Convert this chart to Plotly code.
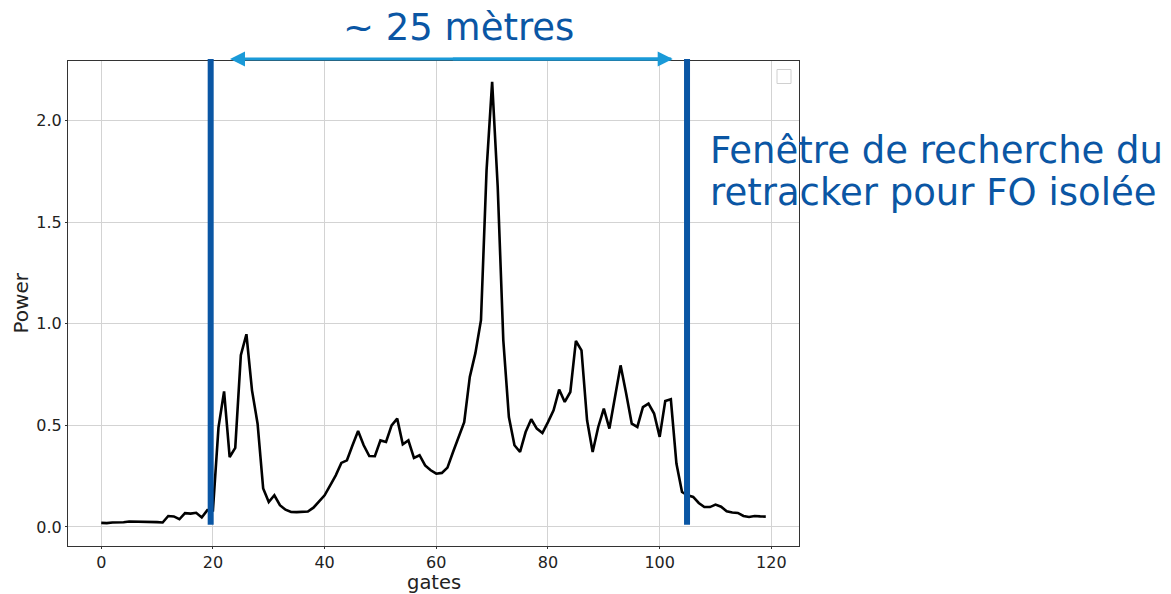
import plotly.graph_objects as go

gates = list(range(120))
power = [
    0.020, 0.019, 0.022, 0.022, 0.023, 0.027, 0.027, 0.025, 0.025, 0.025, 0.024, 0.022,
    0.054, 0.052, 0.038, 0.068, 0.066, 0.070, 0.047, 0.083,
    0.082, 0.490, 0.667, 0.344, 0.389, 0.845, 0.948, 0.672, 0.508, 0.189,
    0.123, 0.156, 0.107, 0.085, 0.074, 0.073, 0.074, 0.076, 0.095, 0.126,
    0.156, 0.205, 0.254, 0.315, 0.328, 0.402, 0.472, 0.402, 0.349, 0.348,
    0.426, 0.418, 0.500, 0.533, 0.407, 0.426, 0.340, 0.353, 0.303, 0.279,
    0.262, 0.266, 0.292, 0.369, 0.443, 0.516, 0.738, 0.855, 1.017, 1.754,
    2.189, 1.672, 0.918, 0.541, 0.402, 0.369, 0.467, 0.530, 0.484, 0.462,
    0.516, 0.574, 0.676, 0.615, 0.664, 0.915, 0.869, 0.525, 0.369, 0.492,
    0.582, 0.484, 0.639, 0.795, 0.656, 0.508, 0.492, 0.590, 0.607, 0.558,
    0.443, 0.620, 0.628, 0.312, 0.172, 0.156, 0.148, 0.118, 0.098, 0.098,
    0.110, 0.100, 0.077, 0.071, 0.069, 0.054, 0.049, 0.054, 0.052, 0.051,
]
window = [19.6, 104.9]
x_ticks = [0, 20, 40, 60, 80, 100, 120]
y_ticks = [0.0, 0.5, 1.0, 1.5, 2.0]
y_tick_text = ["0.0", "0.5", "1.0", "1.5", "2.0"]

W, H = 1171, 594
L, R, T, B = 68, 799, 61, 546
pw, ph = R - L, B - T


def px(xp):
    return (xp - L) / pw


def py(yp):
    return (B - yp) / ph


DARK_BLUE = "#0a56a4"
LIGHT_BLUE = "#1a9ad8"
FONT = "DejaVu Sans"
TXT = "#222222"

fig = go.Figure()
fig.add_trace(go.Scatter(x=gates, y=power, mode="lines",
                         line=dict(color="black", width=2.6), showlegend=False))

shapes = []
for w in window:
    shapes.append(dict(type="line", xref="x", yref="paper", x0=w, x1=w,
                       y0=py(524.7), y1=py(59), line=dict(color=DARK_BLUE, width=6),
                       layer="above"))
# empty legend box
x0, x1, y0, y1 = px(777), px(791), py(83.5), py(69.5)
shapes.append(dict(type="rect", xref="paper", yref="paper", x0=x0, x1=x1, y0=y0, y1=y1,
                   line=dict(color="#d0d0d0", width=1), fillcolor="white", layer="above"))

annotations = []
# double arrow
ay_p = py(59)
left_tip, right_tip = 230, 672.7
annotations.append(dict(xref="paper", yref="paper", x=px(left_tip), y=ay_p, text="",
                        showarrow=True, arrowhead=2, arrowsize=1, arrowwidth=3,
                        arrowcolor=LIGHT_BLUE, ax=right_tip - left_tip, ay=0))
annotations.append(dict(xref="paper", yref="paper", x=px(right_tip), y=ay_p, text="",
                        showarrow=True, arrowhead=2, arrowsize=1, arrowwidth=3,
                        arrowcolor=LIGHT_BLUE, ax=-(right_tip - left_tip) / 2, ay=0))
annotations.append(dict(xref="paper", yref="paper", x=px(459), y=py(27.5),
                        xanchor="center", yanchor="middle", showarrow=False,
                        text="~ 25 mètres", font=dict(family=FONT, size=37, color=DARK_BLUE)))
annotations.append(dict(xref="paper", yref="paper", x=px(708), y=py(150.5),
                        xanchor="left", yanchor="middle", showarrow=False,
                        text="Fenêtre de recherche du", font=dict(family=FONT, size=37, color=DARK_BLUE)))
annotations.append(dict(xref="paper", yref="paper", x=px(708), y=py(192.5),
                        xanchor="left", yanchor="middle", showarrow=False,
                        text="retracker pour FO isolée", font=dict(family=FONT, size=37, color=DARK_BLUE)))
# axis titles
annotations.append(dict(xref="paper", yref="paper", x=px(433.8), y=py(582.5),
                        xanchor="center", yanchor="middle", showarrow=False, borderpad=0,
                        text="gates", font=dict(family=FONT, size=19.5, color=TXT)))
annotations.append(dict(xref="paper", yref="paper", x=px(20), y=py(303.5),
                        xanchor="center", yanchor="middle", showarrow=False, textangle=-90,
                        text="Power", font=dict(family=FONT, size=20, color=TXT)))

axis_common = dict(showline=True, linecolor="#333333", linewidth=1, mirror=True,
                   ticks="outside", ticklen=2, tickcolor="#333333",
                   showgrid=True, gridcolor="#d3d3d3", gridwidth=1, zeroline=False,
                   automargin=False,
                   tickfont=dict(family=FONT, size=16, color=TXT))

fig.update_layout(
    width=W, height=H,
    margin=dict(l=L, r=W - R, t=T, b=H - B),
    paper_bgcolor="white", plot_bgcolor="white",
    font=dict(family=FONT),
    xaxis=dict(range=[-5.95, 124.95], tickvals=x_ticks, **axis_common),
    yaxis=dict(range=[-0.0935, 2.292], tickvals=y_ticks, ticktext=y_tick_text, **axis_common),
    shapes=shapes,
    annotations=annotations,
    showlegend=False,
)

fig.write_html("out.html")
